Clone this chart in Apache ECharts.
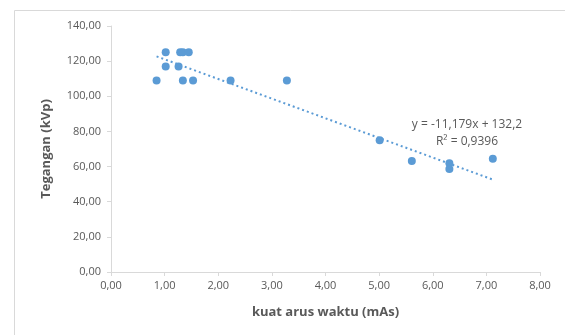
<!DOCTYPE html>
<html><head><meta charset="utf-8">
<script src="https://cdn.jsdelivr.net/npm/echarts@6/dist/echarts.min.js"></script>
<style>html,body{margin:0;padding:0;background:#fff}#c{width:565px;height:335px}</style>
</head><body><div id="c"></div>
<script>
const xValues = [0.85, 1.02, 1.02, 1.29, 1.34, 1.45, 1.26, 1.34, 1.53, 2.23, 3.28, 5.01, 5.61, 6.31, 6.31, 7.12];
const yValues = [109, 125, 117, 125, 125, 125, 117, 109, 109, 109, 109, 75, 63.2, 61.9, 58.6, 64.5];
const trendSlope = -11.179;
const trendIntercept = 132.2;
const equationText = 'y = -11,179x + 132,2';
const r2Text = 'R² = 0,9396';
const xTitle = 'kuat arus waktu (mAs)';
const yTitle = 'Tegangan (kVp)';

const pts = xValues.map((x, i) => [x, yValues[i]]);
const xmin = Math.min(...xValues), xmax = Math.max(...xValues);
const trend = [[xmin, trendSlope * xmin + trendIntercept], [xmax, trendSlope * xmax + trendIntercept]];
const fmt = v => v.toFixed(2).replace('.', ',');
const font = 'Open Sans';
const chart = echarts.init(document.getElementById('c'));
chart.setOption({
  animation: false,
  grid: { left: 111, top: 26, right: 25, bottom: 63 },
  graphic: [{ type: 'rect', shape: { x: 14.5, y: 10.5, width: 600, height: 400 }, style: { fill: 'none', stroke: '#d9d9d9', lineWidth: 1 }, z: -1 }],
  xAxis: {
    type: 'value', min: 0, max: 8, interval: 1,
    name: xTitle, nameLocation: 'middle', nameGap: 34,
    nameTextStyle: { fontFamily: font, fontSize: 13, fontWeight: 'bold', color: '#595959' },
    axisLine: { show: true, lineStyle: { color: '#d9d9d9', width: 1 } },
    axisTick: { show: true, length: 4, lineStyle: { color: '#d9d9d9' } },
    axisLabel: { formatter: fmt, fontFamily: font, fontSize: 11, color: '#595959', margin: 8 },
    splitLine: { show: false }
  },
  yAxis: {
    type: 'value', min: 0, max: 140, interval: 20,
    name: yTitle, nameLocation: 'middle', nameGap: 58, nameRotate: 90,
    nameTextStyle: { fontFamily: font, fontSize: 13, fontWeight: 'bold', color: '#595959' },
    axisLine: { show: true, lineStyle: { color: '#d9d9d9', width: 1 } },
    axisTick: { show: true, length: 4, lineStyle: { color: '#d9d9d9' } },
    axisLabel: { formatter: fmt, fontFamily: font, fontSize: 11, color: '#595959', margin: 10 },
    splitLine: { show: false }
  },
  series: [
    { type: 'line', data: trend, symbol: 'none', lineStyle: { color: '#5b9bd5', width: 2, type: [2, 3] }, z: 1 },
    { type: 'scatter', data: pts, symbolSize: 8, itemStyle: { color: '#5b9bd5', opacity: 1 }, z: 2 }
  ]
});
const p = chart.convertToPixel({ gridIndex: 0 }, [6.6, 0]);
chart.setOption({
  graphic: [
    { type: 'rect', shape: { x: 14.5, y: 10.5, width: 600, height: 400 }, style: { fill: 'none', stroke: '#d9d9d9', lineWidth: 1 }, z: -1 },
    { type: 'text', x: 467, y: 125, style: { text: equationText, align: 'center', verticalAlign: 'middle', font: '12px "Open Sans"', fill: '#595959' } },
    { type: 'text', x: 467, y: 142, style: { text: r2Text, align: 'center', verticalAlign: 'middle', font: '12px "Open Sans"', fill: '#595959' } }
  ]
});
</script></body></html>
